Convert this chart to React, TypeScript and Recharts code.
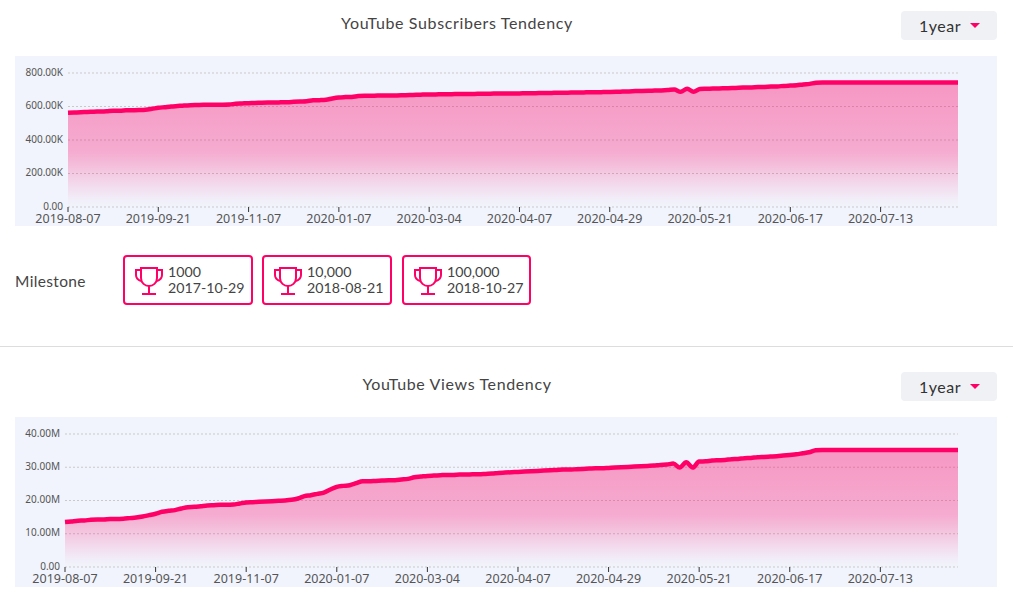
import React from "react";
import { AreaChart, Area, XAxis, YAxis, CartesianGrid } from "recharts";

const dates = [
  "2019-08-07","2019-08-10","2019-08-13","2019-08-17","2019-08-20","2019-08-23","2019-08-26","2019-08-30","2019-09-02","2019-09-05","2019-09-08","2019-09-12","2019-09-15","2019-09-18","2019-09-21",
  "2019-09-24","2019-09-28","2019-10-01","2019-10-05","2019-10-08","2019-10-11","2019-10-15","2019-10-18","2019-10-21","2019-10-25","2019-10-28","2019-11-01","2019-11-04","2019-11-07",
  "2019-11-11","2019-11-16","2019-11-20","2019-11-24","2019-11-29","2019-12-03","2019-12-07","2019-12-11","2019-12-16","2019-12-20","2019-12-24","2019-12-29","2020-01-03","2020-01-07",
  "2020-01-11","2020-01-15","2020-01-19","2020-01-23","2020-01-27","2020-02-01","2020-02-05","2020-02-09","2020-02-13","2020-02-17","2020-02-21","2020-02-25","2020-02-29","2020-03-04",
  "2020-03-06","2020-03-09","2020-03-11","2020-03-14","2020-03-16","2020-03-19","2020-03-21","2020-03-23","2020-03-26","2020-03-28","2020-03-31","2020-04-02","2020-04-05","2020-04-07",
  "2020-04-09","2020-04-11","2020-04-12","2020-04-14","2020-04-15","2020-04-17","2020-04-18","2020-04-20","2020-04-21","2020-04-23","2020-04-24","2020-04-26","2020-04-27","2020-04-29",
  "2020-05-01","2020-05-02","2020-05-04","2020-05-05","2020-05-07","2020-05-08","2020-05-10","2020-05-11","2020-05-13","2020-05-14","2020-05-16","2020-05-17","2020-05-19","2020-05-21",
  "2020-05-23","2020-05-25","2020-05-27","2020-05-29","2020-05-31","2020-06-02","2020-06-04","2020-06-06","2020-06-07","2020-06-09","2020-06-11","2020-06-13","2020-06-15","2020-06-17",
  "2020-06-19","2020-06-21","2020-06-23","2020-06-25","2020-06-26","2020-06-28","2020-06-30","2020-07-02","2020-07-04","2020-07-06","2020-07-07","2020-07-09","2020-07-11","2020-07-13",
  "2020-07-15","2020-07-17","2020-07-19","2020-07-21","2020-07-23","2020-07-25","2020-07-27","2020-07-29","2020-07-31","2020-08-02","2020-08-04","2020-08-06",
];

const subscribersK = [
  562,564,566,567,569,570,572,575,575,577,578,579,581,586,592,
  596,600,603,606,608,609,610,610,611,611,612,616,618,620,
  621,623,624,624,625,626,628,630,632,637,638,640,648,654,
  656,657,662,664,664,665,665,666,666,667,668,670,671,672,
  672,673,673,674,674,675,675,676,676,677,677,677,678,678,
  679,679,680,680,681,682,682,683,683,684,685,685,686,687,
  688,689,690,692,693,694,695,696,698,701,688,706,688,705,
  706,707,708,709,710,712,713,714,716,717,719,720,723,725,
  727,732,735,742,743,743,743,743,743,743,743,743,743,743,
  743,743,743,743,743,743,743,743,743,743,743,743,
];

const viewsM = [
  13.5,13.7,13.9,14.0,14.2,14.3,14.3,14.4,14.4,14.5,14.7,14.9,15.2,15.6,16.0,
  16.6,16.9,17.1,17.6,18.0,18.1,18.3,18.5,18.6,18.7,18.7,18.8,19.1,19.4,
  19.5,19.6,19.7,19.8,19.9,20.0,20.2,20.6,21.3,21.6,22.0,22.4,23.3,24.1,
  24.4,24.6,25.2,25.8,25.8,25.9,26.0,26.1,26.1,26.3,26.5,27.0,27.2,27.4,
  27.5,27.6,27.7,27.7,27.8,27.8,27.9,27.9,28.0,28.1,28.3,28.4,28.5,28.6,
  28.7,28.8,28.9,29.0,29.1,29.2,29.3,29.3,29.4,29.5,29.6,29.7,29.7,29.8,
  29.9,30.0,30.1,30.2,30.3,30.4,30.5,30.7,30.8,31.1,29.9,31.5,29.9,31.7,
  31.8,32.0,32.1,32.2,32.4,32.5,32.7,32.8,33.0,33.1,33.2,33.3,33.5,33.7,
  33.9,34.2,34.5,35.1,35.2,35.2,35.2,35.2,35.2,35.2,35.2,35.2,35.2,35.2,
  35.2,35.2,35.2,35.2,35.2,35.2,35.2,35.2,35.2,35.2,35.2,35.2,
];

const subscriberTicks = [0, 200, 400, 600, 800];
const viewTicks = [0, 10, 20, 30, 40];
const milestones = [
  { label: "1000", date: "2017-10-29", left: 123, width: 130 },
  { label: "10,000", date: "2018-08-21", left: 262, width: 130 },
  { label: "100,000", date: "2018-10-27", left: 402, width: 129 },
];

const PINK = "#ff0066";
const UI_FONT = "Lato, sans-serif";
const AXIS_FONT = "'Noto Sans', sans-serif";

function Tendency({ id, top, left, bottom, values, ticks, suffix }: any) {
  const data = dates.map((date, i) => ({ date, value: values[i] }));
  const format = (v: number) => (v === 0 ? "0.00" : v.toFixed(2) + suffix);
  return (
    <div style={{ position: "absolute", left: 15, top, width: 982, height: 170, background: "#f1f4fc" }}>
      <AreaChart width={982} height={170} data={data} margin={{ top: 17, right: 39, bottom: 0, left: 0 }}>
        <defs>
          <linearGradient id={id} x1="0" y1="0" x2="0" y2="1">
            <stop offset="0" stopColor={PINK} stopOpacity={0.38} />
            <stop offset="0.14" stopColor={PINK} stopOpacity={0.36} />
            <stop offset="0.55" stopColor={PINK} stopOpacity={0.3} />
            <stop offset="0.68" stopColor={PINK} stopOpacity={0.21} />
            <stop offset="0.81" stopColor={PINK} stopOpacity={0.115} />
            <stop offset="0.93" stopColor={PINK} stopOpacity={0.03} />
            <stop offset="1" stopColor={PINK} stopOpacity={0} />
          </linearGradient>
        </defs>
        <CartesianGrid vertical={false} stroke="#c9c9c9" strokeDasharray="2 2" />
        <XAxis
          dataKey="date"
          interval={13}
          axisLine={false}
          tickSize={5}
          tickMargin={2}
          height={bottom}
          tickLine={{ stroke: "#333" }}
          tick={{ fill: "#555", fontSize: 12.5, fontFamily: AXIS_FONT }}
        />
        <YAxis
          width={left}
          domain={[0, ticks[4]]}
          ticks={ticks}
          axisLine={false}
          tickLine={false}
          tickSize={0}
          tickMargin={5}
          tickFormatter={format}
          tick={{ fill: "#555", fontSize: 10, fontFamily: AXIS_FONT, dy: -1 }}
        />
        <Area
          type="monotone"
          dataKey="value"
          stroke={PINK}
          strokeWidth={4.5}
          fill={`url(#${id})`}
          fillOpacity={1}
          dot={false}
          activeDot={false}
          isAnimationActive={false}
        />
      </AreaChart>
    </div>
  );
}

function Title({ text, top }: any) {
  return (
    <div style={{ position: "absolute", left: 257, width: 400, top, textAlign: "center", fontFamily: UI_FONT, fontSize: 16, letterSpacing: 0.63, color: "#444", lineHeight: "20px" }}>
      {text}
    </div>
  );
}

function RangeButton({ top }: any) {
  return (
    <div style={{ position: "absolute", left: 901, top, width: 96, height: 29, background: "#f0f1f5", borderRadius: 4 }}>
      <span style={{ position: "absolute", left: 18, top: 5, fontFamily: UI_FONT, fontSize: 16, letterSpacing: 0.5, color: "#333", lineHeight: "20px" }}>1year</span>
      <svg width="12" height="6" style={{ position: "absolute", left: 69, top: 12 }}>
        <polygon points="0,0 10,0 5,5" fill={PINK} />
      </svg>
    </div>
  );
}

function Trophy() {
  return (
    <svg width="30" height="30" viewBox="0 0 30 30" style={{ position: "absolute", left: 9, top: 9 }} fill="none" stroke={PINK} strokeWidth="2">
      <path d="M7 2 H23 V12 C23 17 19 20 15 20 C11 20 7 17 7 12 Z" />
      <path d="M7 4 H2 V9 C2 12 4 14 7 15" />
      <path d="M23 4 H28 V9 C28 12 26 14 23 15" />
      <path d="M15 20 V28 M8 28 H22" />
    </svg>
  );
}

export default function App() {
  return (
    <div style={{ position: "absolute", left: 0, top: 0, width: 1013, height: 601, overflow: "hidden", background: "#fff" }}>
      <Title text="YouTube Subscribers Tendency" top={13} />
      <RangeButton top={11} />
      <Tendency id="subFill" top={56} left={53} bottom={19} values={subscribersK} ticks={subscriberTicks} suffix="K" />

      <div style={{ position: "absolute", left: 15, top: 271, fontFamily: UI_FONT, fontSize: 15.5, letterSpacing: 0.35, color: "#444", lineHeight: "20px" }}>Milestone</div>
      {milestones.map((m) => (
        <div key={m.label} style={{ position: "absolute", left: m.left, top: 255, width: m.width, height: 50, boxSizing: "border-box", border: `2px solid ${PINK}`, borderRadius: 4 }}>
          <Trophy />
          <div style={{ position: "absolute", left: 43, top: 7, fontFamily: UI_FONT, fontSize: 14.2, lineHeight: "16px", color: "#444", whiteSpace: "nowrap" }}>
            <div>{m.label}</div>
            <div>{m.date}</div>
          </div>
        </div>
      ))}

      <div style={{ position: "absolute", left: 0, top: 346, width: 1013, height: 1, background: "#ddd" }} />

      <Title text="YouTube Views Tendency" top={374} />
      <RangeButton top={372} />
      <Tendency id="viewFill" top={417} left={50} bottom={20} values={viewsM} ticks={viewTicks} suffix="M" />
    </div>
  );
}
